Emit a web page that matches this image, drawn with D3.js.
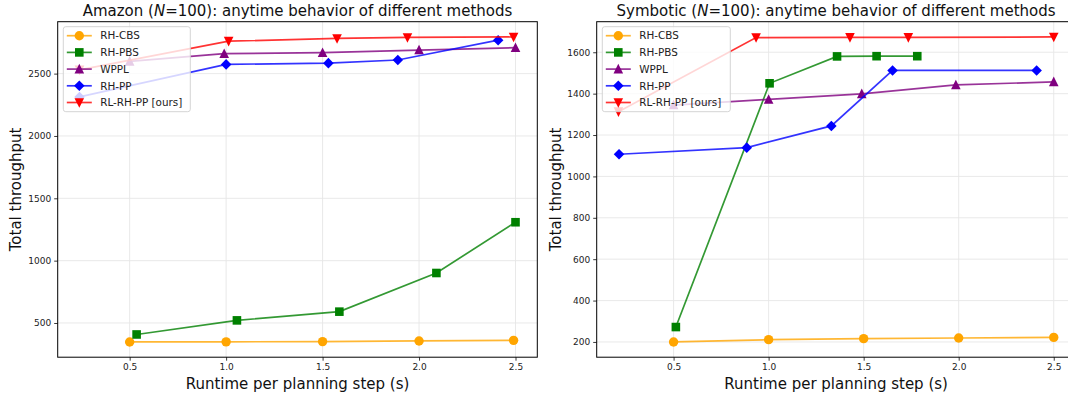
<!DOCTYPE html>
<html>
<head>
<meta charset="utf-8">
<script src="https://cdn.jsdelivr.net/npm/d3@7"></script>
<style>
	body { margin: 0; background: #fff; }
	svg { display: block; font-family: "DejaVu Sans", sans-serif; }
</style>
</head>
<body>
<script>
// method names + colours + markers, in plotting order
const methods = ['RH-CBS', 'RH-PBS', 'WPPL', 'RH-PP', 'RL-RH-PP [ours]'];
const colors = ['orange', 'green', 'purple', 'blue', 'red'];
const markers = ['circle', 'square', 'triUp', 'diamond', 'triDown'];

const xTicks = [0.5, 1.0, 1.5, 2.0, 2.5];
const amazonYTicks = [500, 1000, 1500, 2000, 2500];
const symboticYTicks = [200, 400, 600, 800, 1000, 1200, 1400, 1600];

// Amazon: [runtime, throughput]
const amazonCBS = [[0.5, 348], [1.0, 349], [1.5, 351], [2.0, 356], [2.49, 361]];
const amazonPBS = [[0.536, 408], [1.056, 521], [1.587, 591], [2.09, 901], [2.5, 1308]];
const amazonWPPL = [[0.5, 2598], [0.99, 2660], [1.5, 2668], [2.0, 2689], [2.5, 2708]];
const amazonPP = [[0.24, 2313], [1.0, 2574], [1.53, 2584], [1.89, 2609], [2.41, 2768]];
const amazonRL = [[0.24, 2530], [1.013, 2760], [1.575, 2782], [1.94, 2790], [2.49, 2794]];

// Symbotic
const symboticCBS = [[0.5, 200], [1.0, 211], [1.5, 216], [2.0, 219], [2.5, 222]];
const symboticPBS = [[0.512, 272], [1.005, 1450], [1.36, 1580], [1.568, 1581], [1.782, 1581]];
const symboticWPPL = [[0.5, 1345], [1.0, 1372], [1.49, 1399], [1.985, 1442], [2.5, 1457]];
const symboticPP = [[0.213, 1107], [0.885, 1139], [1.33, 1244], [1.652, 1512], [2.41, 1512]];
const symboticRL = [[0.21, 1313], [0.934, 1671], [1.428, 1672], [1.735, 1672], [2.5, 1674]];

const width = 1068;
const height = 398;

const svg = d3.select('body')
	.append('svg')
	.attr('width', width)
	.attr('height', height);

// matplotlib-ish marker shapes, s = marker size in px
function markerPath(kind, s) {
	const h = s / 2;
	const p = d3.path();
	if (kind === 'circle') {
		p.arc(0, 0, h, 0, 2 * Math.PI);
	} else if (kind === 'square') {
		p.rect(-h, -h, s, s);
	} else if (kind === 'diamond') {
		const d = h * 1.2;
		p.moveTo(0, -d); p.lineTo(d, 0); p.lineTo(0, d); p.lineTo(-d, 0); p.closePath();
	} else if (kind === 'triUp') {
		p.moveTo(0, -h * 1.1); p.lineTo(h, h * 0.9); p.lineTo(-h, h * 0.9); p.closePath();
	} else {
		p.moveTo(0, h * 1.1); p.lineTo(h, -h * 0.9); p.lineTo(-h, -h * 0.9); p.closePath();
	}
	return p.toString();
}
const markerSize = [9.4, 8.6, 9.6, 8.8, 9.6];

function padded(vals) { // 5% margins like matplotlib autoscale
	const e = d3.extent(vals);
	const m = (e[1] - e[0]) * 0.05;
	return [e[0] - m, e[1] + m];
}

function drawPanel(opts) {
	const box = opts.box;
	const allPts = [].concat(...opts.series);

	const x = d3.scaleLinear()
		.domain(padded(allPts.map(function(d) { return d[0]; })))
		.range([box.left, box.right]);
	const y = d3.scaleLinear()
		.domain(padded(allPts.map(function(d) { return d[1]; })))
		.range([box.bottom, box.top]);

	const g = svg.append('g');

	// grid
	g.append('g').selectAll('line.gx')
		.data(xTicks).enter().append('line')
		.attr('x1', function(d) { return x(d); }).attr('x2', function(d) { return x(d); })
		.attr('y1', box.top).attr('y2', box.bottom)
		.attr('stroke', '#e6e6e6').attr('stroke-width', 0.9);
	g.append('g').selectAll('line.gy')
		.data(opts.yTicks).enter().append('line')
		.attr('x1', box.left).attr('x2', box.right)
		.attr('y1', function(d) { return y(d); }).attr('y2', function(d) { return y(d); })
		.attr('stroke', '#e6e6e6').attr('stroke-width', 0.9);

	// axes
	const xAxis = g.append('g')
		.attr('transform', 'translate(0,' + box.bottom + ')')
		.call(d3.axisBottom(x).tickValues(xTicks).tickFormat(d3.format('.1f')).tickSizeOuter(0).tickSize(3.5).tickPadding(3));
	const yAxis = g.append('g')
		.attr('transform', 'translate(' + box.left + ',0)')
		.call(d3.axisLeft(y).tickValues(opts.yTicks).tickFormat(d3.format('d')).tickSizeOuter(0).tickSize(3.5).tickPadding(3));
	[xAxis, yAxis].forEach(function(a) {
		a.select('.domain').remove();
		a.selectAll('text').attr('font-size', 9).attr('fill', '#222').attr('font-family', 'DejaVu Sans');
		a.selectAll('line').attr('stroke', '#222').attr('stroke-width', 0.9);
	});

	// series
	const line = d3.line().x(function(d) { return x(d[0]); }).y(function(d) { return y(d[1]); });
	opts.series.forEach(function(pts, i) {
		g.append('path')
			.attr('d', line(pts))
			.attr('fill', 'none')
			.attr('stroke', colors[i])
			.attr('stroke-opacity', 0.8)
			.attr('stroke-width', 1.7);
		g.append('g').selectAll('path')
			.data(pts).enter().append('path')
			.attr('d', markerPath(markers[i], markerSize[i]))
			.attr('transform', function(d) { return 'translate(' + x(d[0]) + ',' + y(d[1]) + ')'; })
			.attr('fill', colors[i]);
	});

	// frame
	g.append('rect')
		.attr('x', box.left).attr('y', box.top)
		.attr('width', box.right - box.left).attr('height', box.bottom - box.top)
		.attr('fill', 'none').attr('stroke', '#000').attr('stroke-width', 1);

	// legend
	const lx = box.left + 5.6;
	const ly = box.top + 5;
	const leg = g.append('g');
	leg.append('rect')
		.attr('x', lx).attr('y', ly)
		.attr('width', opts.legendWidth).attr('height', 85)
		.attr('rx', 2.5)
		.attr('fill', '#fff').attr('fill-opacity', 0.8)
		.attr('stroke', '#d0d0d0').attr('stroke-width', 0.9);
	methods.forEach(function(m, i) {
		const ry = ly + 9 + i * 16.7;
		leg.append('line')
			.attr('x1', lx + 3.5).attr('x2', lx + 28.5)
			.attr('y1', ry).attr('y2', ry)
			.attr('stroke', colors[i]).attr('stroke-opacity', 0.8).attr('stroke-width', 1.7);
		leg.append('path')
			.attr('d', markerPath(markers[i], markerSize[i]))
			.attr('transform', 'translate(' + (lx + 16) + ',' + ry + ')')
			.attr('fill', colors[i]);
		leg.append('text')
			.attr('x', lx + 37).attr('y', ry + 3.7)
			.attr('font-size', 10.4).attr('fill', '#222')
			.text(m);
	});

	const cx = (box.left + box.right) / 2;
	const title = g.append('text')
		.attr('x', cx).attr('y', 15.8)
		.attr('text-anchor', 'middle')
		.attr('font-size', 15).attr('fill', '#111');
	title.append('tspan').text(opts.name + ' (');
	title.append('tspan').attr('font-style', 'italic').text('N');
	title.append('tspan').text('=100): anytime behavior of different methods');

	g.append('text')
		.attr('x', cx).attr('y', 388.5)
		.attr('text-anchor', 'middle')
		.attr('font-size', 15).attr('fill', '#111')
		.text('Runtime per planning step (s)');

	g.append('text')
		.attr('transform', 'translate(' + opts.ylabelX + ',' + ((box.top + box.bottom) / 2) + ') rotate(-90)')
		.attr('text-anchor', 'middle')
		.attr('font-size', 15).attr('fill', '#111')
		.text('Total throughput');
}

drawPanel({
	name: 'Amazon',
	box: { left: 57.7, right: 537.3, top: 21.7, bottom: 357.2 },
	yTicks: amazonYTicks,
	series: [amazonCBS, amazonPBS, amazonWPPL, amazonPP, amazonRL],
	legendWidth: 127,
	ylabelX: 21
});

drawPanel({
	name: 'Symbotic',
	box: { left: 596.7, right: 1075.5, top: 21.7, bottom: 357.2 },
	yTicks: symboticYTicks,
	series: [symboticCBS, symboticPBS, symboticWPPL, symboticPP, symboticRL],
	legendWidth: 128,
	ylabelX: 561
});
</script>
</body>
</html>
